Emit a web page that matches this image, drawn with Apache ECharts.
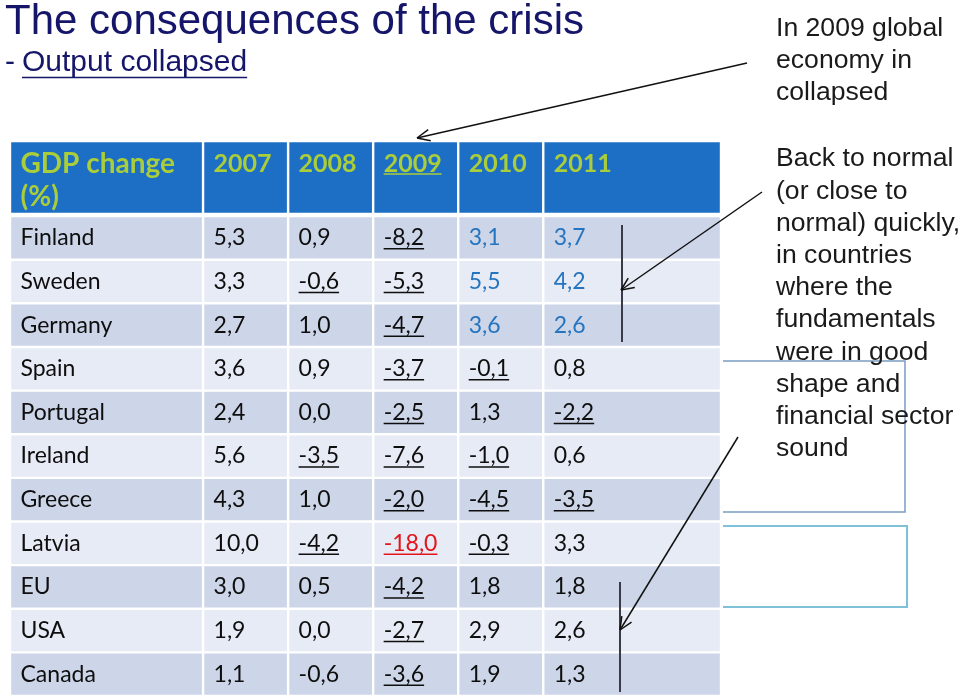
<!DOCTYPE html>
<html><head><meta charset="utf-8">
<script src="https://cdn.jsdelivr.net/npm/echarts@6/dist/echarts.min.js"></script>
<style>html,body{margin:0;padding:0;background:#fff}#main{width:960px;height:696px}</style>
</head><body><div id="main"></div>
<script>
// ---------- data ----------
const headerLabel = 'GDP change\n(%)';
const years = ['2007', '2008', '2009', '2010', '2011'];
const countries = ['Finland', 'Sweden', 'Germany', 'Spain', 'Portugal', 'Ireland', 'Greece', 'Latvia', 'EU', 'USA', 'Canada'];
const gdp2007 = [5.3, 3.3, 2.7, 3.6, 2.4, 5.6, 4.3, 10.0, 3.0, 1.9, 1.1];
const gdp2008 = [0.9, -0.6, 1.0, 0.9, 0.0, -3.5, 1.0, -4.2, 0.5, 0.0, -0.6];
const gdp2009 = [-8.2, -5.3, -4.7, -3.7, -2.5, -7.6, -2.0, -18.0, -4.2, -2.7, -3.6];
const gdp2010 = [3.1, 5.5, 3.6, -0.1, 1.3, -1.0, -4.5, -0.3, 1.8, 2.9, 1.9];
const gdp2011 = [3.7, 4.2, 2.6, 0.8, -2.2, 0.6, -3.5, 3.3, 1.8, 2.6, 1.3];
const notUnderlined = [['Canada', '2008']];
const blueCells = [['Finland', '2010'], ['Finland', '2011'], ['Sweden', '2010'], ['Sweden', '2011'], ['Germany', '2010'], ['Germany', '2011']];
const redCells = [['Latvia', '2009']];
const underlinedHeaders = ['2009'];
const titleText = 'The consequences of the crisis';
const subtitleText = 'Output collapsed';
const note1 = 'In 2009 global\neconomy in\ncollapsed';
const note2 = 'Back to normal\n(or close to\nnormal) quickly,\nin countries\nwhere the\nfundamentals\nwere in good\nshape and\nfinancial sector\nsound';

// ---------- layout ----------
const colWidths = [2.27, 1, 1, 1, 1, 2.09];
const headerSpan = [0, 1.67];
const firstRowStart = 1.72;
const bodyFont = '23px Lato';
const headFont = 'bold 25px Lato';
const headLabelFont = 'bold 28px Lato';
const colors = {
  head: '#1d6fc5', headText: '#aacd3a', dark: '#cdd5e8', light: '#e7ebf5',
  text: '#0e0e0e', blue: '#2574bf', red: '#e3141c', navy: '#15156a', note: '#1a1a1a'
};

const seriesByYear = [gdp2007, gdp2008, gdp2009, gdp2010, gdp2011];
const fmt = v => v.toFixed(1).replace('.', ',');
const has = (list, c, y) => list.some(p => p[0] === c && p[1] === y);
const colEdges = [0];
colWidths.forEach(w => colEdges.push(colEdges[colEdges.length - 1] + w));
const totalX = colEdges[colEdges.length - 1];
const totalY = firstRowStart + countries.length;

const mctx = document.createElement('canvas').getContext('2d');
function textWidth(t, font) { mctx.font = font; return mctx.measureText(t).width; }

const cells = [];
cells.push({ value: [colEdges[0], colEdges[1], headerSpan[0], headerSpan[1]], kind: 'head', text: headerLabel, font: headLabelFont, underline: false });
years.forEach((yr, j) => cells.push({ value: [colEdges[j + 1], colEdges[j + 2], headerSpan[0], headerSpan[1]], kind: 'head', text: yr, font: headFont, underline: underlinedHeaders.includes(yr) }));
countries.forEach((c, i) => {
  const y0 = firstRowStart + i, y1 = y0 + 1;
  const band = i % 2 === 0 ? 'dark' : 'light';
  cells.push({ value: [colEdges[0], colEdges[1], y0, y1], kind: band, text: c, color: colors.text, underline: false });
  years.forEach((yr, j) => {
    const v = seriesByYear[j][i];
    let color = colors.text;
    if (has(blueCells, c, yr)) color = colors.blue;
    if (has(redCells, c, yr)) color = colors.red;
    cells.push({ value: [colEdges[j + 1], colEdges[j + 2], y0, y1], kind: band, text: fmt(v), color, underline: v < 0 && !has(notUnderlined, c, yr) });
  });
});

function renderItem(params, api) {
  const d = cells[params.dataIndex];
  const p0 = api.coord([api.value(0), api.value(2)]);
  const p1 = api.coord([api.value(1), api.value(3)]);
  const x = p0[0], y = p0[1], w = p1[0] - p0[0], h = p1[1] - p0[1];
  const children = [{
    type: 'rect', shape: { x: x + 1.2, y: y + 1.2, width: w - 2.4, height: h - 2.4 },
    style: { fill: colors[d.kind] }
  }];
  const tx = x + 10.5;
  if (d.kind === 'head') {
    children.push({ type: 'text', style: { text: d.text, x: tx, y: y + 6.5, font: d.font, fill: colors.headText, align: 'left', verticalAlign: 'top', lineHeight: 33 } });
    if (d.underline) {
      const tw = textWidth(d.text, d.font);
      children.push({ type: 'line', shape: { x1: tx, y1: y + 33, x2: tx + tw, y2: y + 33 }, style: { stroke: colors.headText, lineWidth: 1.5 } });
    }
  } else {
    const cy = y + h / 2;
    children.push({ type: 'text', style: { text: d.text, x: tx, y: cy, font: bodyFont, fill: d.color, align: 'left', verticalAlign: 'middle' } });
    if (d.underline) {
      const tw = textWidth(d.text, bodyFont);
      children.push({ type: 'line', shape: { x1: tx, y1: cy + 11, x2: tx + tw, y2: cy + 11 }, style: { stroke: d.color, lineWidth: 1.5 } });
    }
  }
  return { type: 'group', children };
}

// ---------- annotations ----------
const annFont = '26.6px "Liberation Sans", Arial, sans-serif';
function arrow(x1, y1, x2, y2) {
  const a = Math.atan2(y2 - y1, x2 - x1), L = 14, s = 0.42;
  const out = [{ type: 'line', shape: { x1, y1, x2, y2 }, style: { stroke: '#111', lineWidth: 1.5 }, z: 100 }];
  [a + Math.PI - s, a + Math.PI + s].forEach(b => out.push({
    type: 'line', shape: { x1: x2, y1: y2, x2: x2 + L * Math.cos(b), y2: y2 + L * Math.sin(b) }, style: { stroke: '#111', lineWidth: 1.5 }, z: 100
  }));
  return out;
}
const subFont = '30px "Liberation Sans", Arial, sans-serif';
const subX = 22, subW = textWidth(subtitleText, subFont);
const graphics = [
  { type: 'text', x: 5, y: 22, z: 100, style: { text: titleText, font: '42px "Liberation Sans", Arial, sans-serif', fill: colors.navy, align: 'left', verticalAlign: 'middle' } },
  { type: 'text', x: 5, y: 63, z: 100, style: { text: '-', font: subFont, fill: colors.navy, align: 'left', verticalAlign: 'middle' } },
  { type: 'text', x: subX, y: 63, z: 100, style: { text: subtitleText, font: subFont, fill: colors.navy, align: 'left', verticalAlign: 'middle' } },
  { type: 'line', z: 100, shape: { x1: subX, y1: 77.5, x2: subX + subW, y2: 77.5 }, style: { stroke: colors.navy, lineWidth: 1.5 } },
  { type: 'text', x: 776, y: 13, z: 100, style: { text: note1, font: annFont, fill: colors.note, align: 'left', verticalAlign: 'top', lineHeight: 32 } },
  { type: 'text', x: 776, y: 143, z: 100, style: { text: note2, font: annFont, fill: colors.note, align: 'left', verticalAlign: 'top', lineHeight: 32.2 } },
  { type: 'polyline', z: 90, shape: { points: [[723, 361], [905, 361], [905, 512], [723, 512]] }, style: { stroke: '#7b9dc2', lineWidth: 1.5, fill: null } },
  { type: 'polyline', z: 90, shape: { points: [[723, 526], [907, 526], [907, 607], [723, 607]] }, style: { stroke: '#7fc1d9', lineWidth: 2, fill: null } },
  { type: 'line', z: 100, shape: { x1: 622, y1: 225, x2: 622, y2: 342 }, style: { stroke: '#3a3a48', lineWidth: 2 } },
  { type: 'line', z: 100, shape: { x1: 620, y1: 582, x2: 620, y2: 692 }, style: { stroke: '#3a3a48', lineWidth: 2 } },
  ...arrow(747, 63, 417, 138),
  ...arrow(762, 192, 621, 290),
  ...arrow(738, 437, 620, 630)
];

const chart = echarts.init(document.getElementById('main'), null, { renderer: 'canvas' });
chart.setOption({
  backgroundColor: '#ffffff',
  animation: false,
  grid: { left: 10, top: 141, width: 711, height: 555 },
  xAxis: { type: 'value', min: 0, max: totalX, show: false },
  yAxis: { type: 'value', min: 0, max: totalY, inverse: true, show: false },
  graphic: graphics,
  series: [{
    type: 'custom', renderItem, silent: true,
    data: cells.map(c => c.value),
    encode: { x: [0, 1], y: [2, 3] }
  }]
});
</script></body></html>
